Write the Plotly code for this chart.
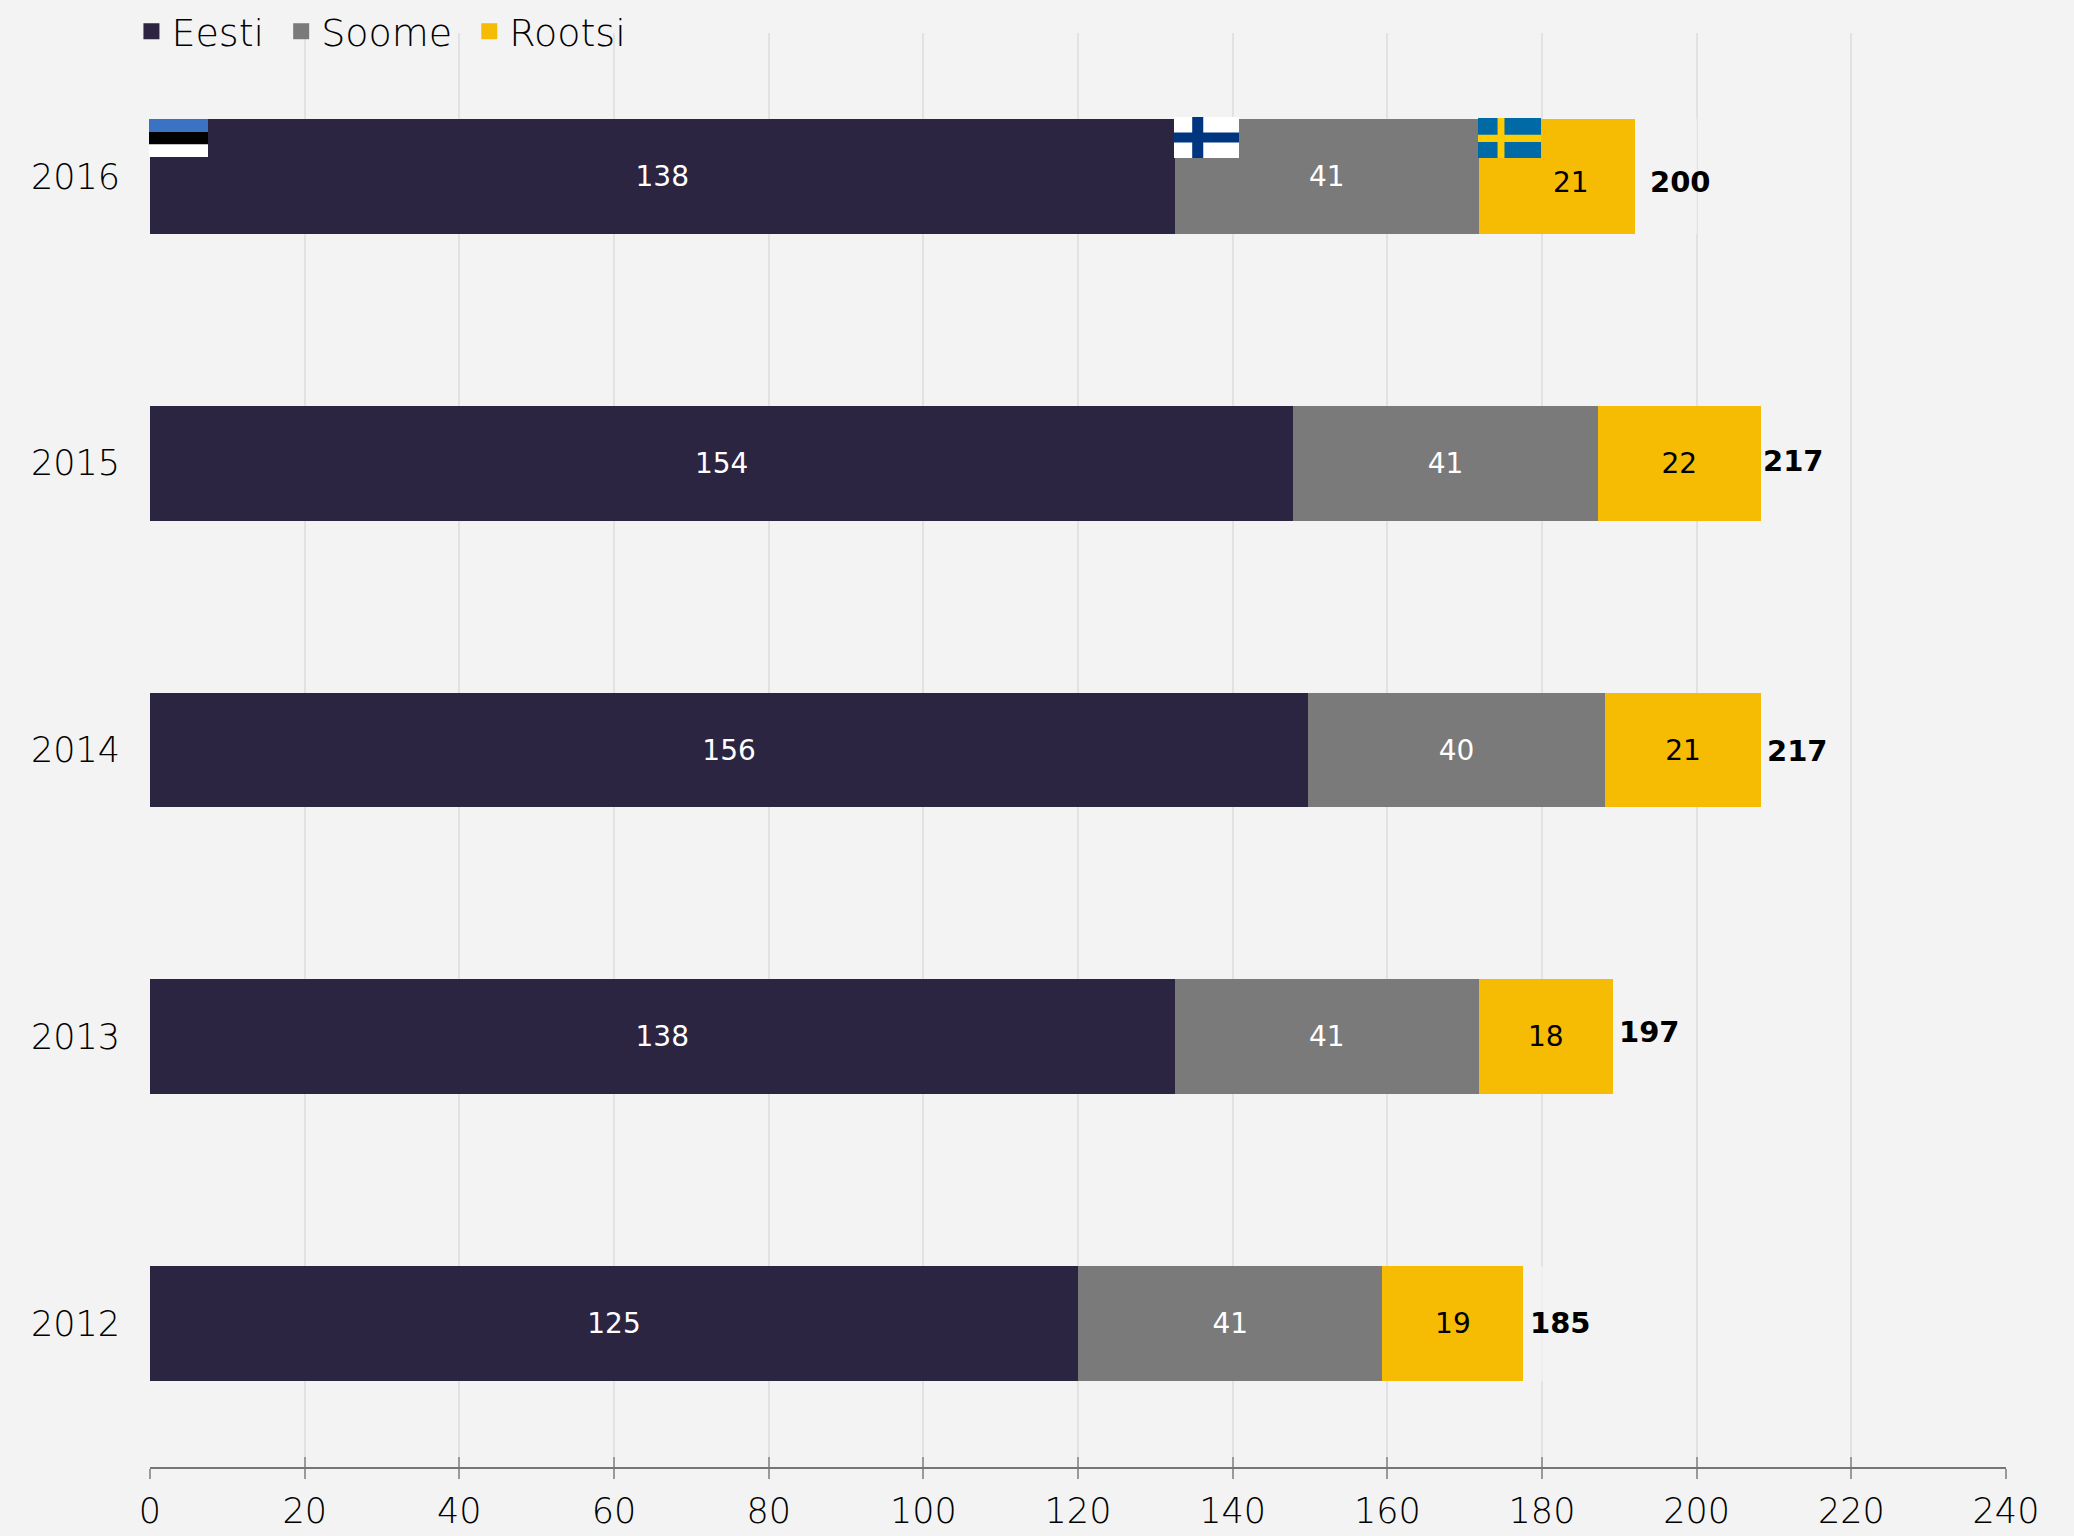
import plotly.graph_objects as go

COLORS = {
    "bg": "#f3f3f3",
    "grid": "#e2e2e2",
    "axis": "#767676",
    "eesti": "#2b2542",
    "soome": "#7a7a7a",
    "rootsi": "#f6bc04",
    "pad": "rgba(242,242,242,0.8)",
}
FONT = "DejaVu Sans, sans-serif"
THIN = 200

# bottom to top, same order as the picture reads from below
years = ["2012", "2013", "2014", "2015", "2016"]
eesti = [125, 138, 156, 154, 138]
soome = [41, 41, 40, 41, 41]
rootsi = [19, 18, 21, 22, 21]
totals = [185, 197, 217, 217, 200]
x_ticks = list(range(0, 241, 20))

# the source chart draws the parts at 96% and leaves 4% of the total for the sum label
BAR_SCALE = 0.96
PAD_SCALE = 0.04

W, H = 2074, 1536
M = dict(l=150, r=68, t=33, b=69, autoexpand=False)
PLOT_W = W - M["l"] - M["r"]
PLOT_H = H - M["t"] - M["b"]

# label nudges (px) per year, the reference has them hand placed
total_dx = [8, 6, 3, -1, 15]
total_dy = [1, 5, -1, 2, -6]
rootsi_2016_dx, rootsi_2016_dy = 14, -6


def flag_rects(x0, x1, y0, y1, base, bars):
    # pixel box -> paper shapes, bars are (x0, x1, y0, y1, color) in 0..1 of the flag
    out = []
    parts = [(0, 1, 0, 1, base)] + bars
    for a, b, c, d, col in parts:
        out.append(dict(
            type="rect", xref="paper", yref="paper", layer="above",
            x0=(x0 + (x1 - x0) * a - M["l"]) / PLOT_W,
            x1=(x0 + (x1 - x0) * b - M["l"]) / PLOT_W,
            y0=1 - (y0 + (y1 - y0) * c - M["t"]) / PLOT_H,
            y1=1 - (y0 + (y1 - y0) * d - M["t"]) / PLOT_H,
            fillcolor=col, line=dict(width=0),
        ))
    return out


fig = go.Figure()
for name, vals, col, txt in [
    ("Eesti", eesti, COLORS["eesti"], "#ffffff"),
    ("Soome", soome, COLORS["soome"], "#ffffff"),
    ("Rootsi", rootsi, COLORS["rootsi"], "#000000"),
]:
    labels = [str(v) for v in vals]
    if name == "Rootsi":
        labels[-1] = ""  # 2016 sits off-centre, see annotation below
    fig.add_trace(go.Bar(
        y=years,
        x=[v * BAR_SCALE for v in vals],
        orientation="h",
        name=name,
        showlegend=False,
        marker=dict(color=col, line=dict(width=0)),
        text=labels,
        textposition="inside",
        insidetextanchor="middle",
        textangle=0,
        constraintext="none",
        insidetextfont=dict(color=txt, size=28, family=FONT, weight=400),
    ))

fig.add_trace(go.Bar(
    y=years,
    x=[t * PAD_SCALE for t in totals],
    orientation="h",
    showlegend=False,
    marker=dict(color=COLORS["pad"], line=dict(width=0)),
    hoverinfo="skip",
))

# square swatches for the legend, nbsp in the name widens the gap between entries
for name, col in [("Eesti", COLORS["eesti"]), ("Soome", COLORS["soome"]), ("Rootsi", COLORS["rootsi"])]:
    fig.add_trace(go.Scatter(
        x=[None], y=[None], mode="markers", name=name + "\u00a0",
        marker=dict(symbol="square", size=20, color=col),
    ))

# empty trace so plotly keeps xaxis2 (upper half of the crossing ticks)
fig.add_trace(go.Scatter(x=[None], y=[None], xaxis="x2", mode="markers", showlegend=False))

# annotations on a category axis want the category index, not the "2016" string
annotations = []
for i, t in enumerate(totals):
    annotations.append(dict(
        x=t * BAR_SCALE + t * PAD_SCALE / 2, y=i, text=f"<b>{t}</b>",
        showarrow=False, xanchor="center", yanchor="middle",
        xshift=total_dx[i], yshift=total_dy[i],
        font=dict(size=29, color="#000000", family=FONT),
    ))
annotations.append(dict(
    x=(eesti[-1] + soome[-1] + rootsi[-1] / 2) * BAR_SCALE, y=len(years) - 1, text=str(rootsi[-1]),
    showarrow=False, xanchor="center", yanchor="middle",
    xshift=rootsi_2016_dx, yshift=rootsi_2016_dy,
    font=dict(size=28, color="#000000", family=FONT, weight=400),
))

shapes = []
shapes += flag_rects(149, 208, 119, 157, "#ffffff", [
    (0, 1, 0, 1 / 3, "#3a72c4"),
    (0, 1, 1 / 3, 2 / 3, "#000000"),
])
shapes += flag_rects(1174, 1239, 117, 158, "#ffffff", [
    (0.28, 0.45, 0, 1, "#003580"),
    (0, 1, 0.38, 0.62, "#003580"),
])
shapes += flag_rects(1478, 1541, 118, 158, "#006aa7", [
    (0.31, 0.42, 0, 1, "#fecc00"),
    (0, 1, 0.42, 0.6, "#fecc00"),
])

fig.update_layout(
    width=W,
    height=H,
    margin=M,
    barmode="stack",
    bargap=0.6,
    paper_bgcolor=COLORS["bg"],
    plot_bgcolor=COLORS["bg"],
    font=dict(family=FONT, color="#000000", size=34, weight=THIN),
    xaxis=dict(
        range=[0, 240],
        tickvals=x_ticks,
        ticktext=[str(v) for v in x_ticks],
        showgrid=True,
        gridcolor=COLORS["grid"],
        gridwidth=1.5,
        zeroline=False,
        showline=True,
        linecolor=COLORS["axis"],
        linewidth=1.5,
        ticks="outside",
        ticklen=10,
        tickwidth=1.5,
        tickcolor="#9a9a9a",
        ticklabelstandoff=2,
        tickfont=dict(size=35, family=FONT, weight=THIN),
    ),
    xaxis2=dict(
        overlaying="x",
        anchor="y",
        side="bottom",
        range=[0, 240],
        tickvals=x_ticks[1:],
        showticklabels=False,
        showgrid=False,
        zeroline=False,
        ticks="inside",
        ticklen=10,
        tickwidth=1.5,
        tickcolor="#9a9a9a",
    ),
    yaxis=dict(
        type="category",
        categoryorder="array",
        categoryarray=years,
        range=[-0.5, 4.5],
        showgrid=False,
        zeroline=False,
        showline=False,
        ticks="",
        ticklabelstandoff=29,
        tickfont=dict(size=35, family=FONT, weight=THIN),
    ),
    legend=dict(
        orientation="h",
        traceorder="normal",
        x=-0.010,
        y=1.023,
        xanchor="left",
        yanchor="top",
        bgcolor="rgba(0,0,0,0)",
        itemclick=False,
        font=dict(size=38, family=FONT, weight=THIN),
    ),
    annotations=annotations,
    shapes=shapes,
)

fig.write_html(
    "out.html",
    config={"displayModeBar": False},
    post_script="document.body.style.margin='0';document.body.style.background='#f3f3f3';",
)
